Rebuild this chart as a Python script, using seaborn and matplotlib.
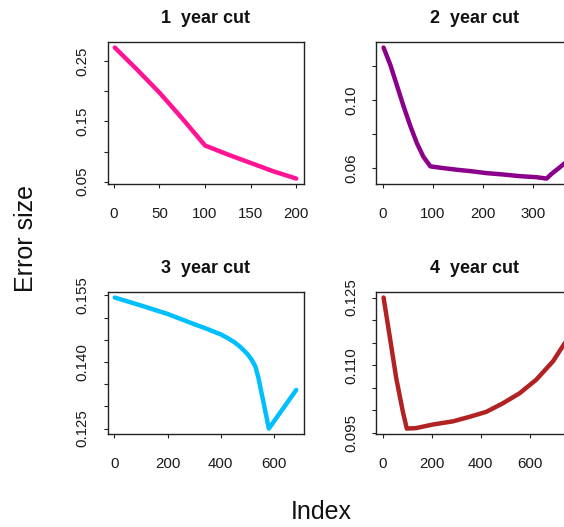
import matplotlib
matplotlib.use("Agg")
import matplotlib.pyplot as plt
import seaborn as sns
import pandas as pd

# ---- data ----
x1 = [1, 25, 50, 75, 100, 125, 150, 175, 200]
y1 = [0.273, 0.237, 0.198, 0.155, 0.110, 0.095, 0.081, 0.067, 0.055]

x2 = [1, 15, 28, 41, 55, 68, 81, 95, 115, 148, 175, 208, 241, 275, 308, 328, 338, 351, 365]
y2 = [0.1312, 0.1206, 0.1086, 0.0966, 0.0846, 0.0746, 0.0666, 0.0610, 0.0602, 0.0590,
      0.0582, 0.0570, 0.0562, 0.0552, 0.0546, 0.0538, 0.0566, 0.0596, 0.0630]

x3 = [1, 100, 200, 300, 350, 400, 425, 450, 475, 500, 515, 530, 541, 581, 684]
y3 = [0.1545, 0.1527, 0.1508, 0.1485, 0.1474, 0.1462, 0.1454, 0.1445, 0.1433, 0.1418,
      0.1406, 0.1390, 0.1366, 0.1250, 0.1337]

x4 = [3, 27, 55, 82, 98, 136, 205, 287, 355, 423, 491, 559, 627, 696, 745]
y4 = [0.1250, 0.1168, 0.1071, 0.0997, 0.0960, 0.0961, 0.0969, 0.0976, 0.0986, 0.0997,
      0.1016, 0.1038, 0.1068, 0.1109, 0.1150]

titles = ["1  year cut", "2  year cut", "3  year cut", "4  year cut"]
colors = ["#FF1493", "#8B008B", "#00BFFF", "#B22222"]

xticks = [[0, 50, 100, 150, 200], [0, 100, 200, 300], [0, 200, 400, 600], [0, 200, 400, 600]]
yticks = [[0.05, 0.10, 0.15, 0.20, 0.25],
          [0.06, 0.08, 0.10, 0.12],
          [0.125, 0.130, 0.135, 0.140, 0.145, 0.150, 0.155],
          [0.095, 0.100, 0.105, 0.110, 0.115, 0.120, 0.125]]
ylabels_shown = [["0.05", "", "0.15", "", "0.25"],
                 ["0.06", "", "0.10", ""],
                 ["0.125", "", "", "0.140", "", "", "0.155"],
                 ["0.095", "", "", "0.110", "", "", "0.125"]]

sns.set_style("white")
plt.rcParams["font.family"] = ["Liberation Sans", "DejaVu Sans"]

W, H = 564, 527
fig = plt.figure(figsize=(W / 100, H / 100), dpi=100)

# panel boxes in pixels: (left, top, width, height)
boxes = [(107.5, 42.3, 196, 141.5), (376.3, 42.3, 196, 141.5),
         (107.5, 292.3, 196, 141.5), (376.3, 292.3, 196, 141.5)]
title_gap = 19.6  # px between title baseline and box top

xs = [x1, x2, x3, x4]
ys = [y1, y2, y3, y4]

for i in range(4):
    l, t, w, h = boxes[i]
    ax = fig.add_axes([l / W, 1 - (t + h) / H, w / W, h / H])
    df = pd.DataFrame({"x": xs[i], "y": ys[i]})
    sns.lineplot(data=df, x="x", y="y", ax=ax, color=colors[i], linewidth=3.2)
    ax.margins(x=0.04, y=0.04)
    ax.set_xticks(xticks[i])
    ax.set_yticks(yticks[i])
    ax.set_yticklabels(ylabels_shown[i], rotation=90, va="center")
    ax.set_xlabel("")
    ax.set_ylabel("")
    for s in ax.spines.values():
        s.set_visible(True)
        s.set_color("#222222")
        s.set_linewidth(1.0)
    ax.tick_params(axis="both", direction="out", length=3, width=0.8, color="#222222",
                   labelsize=10.8, labelcolor="#1a1a1a")
    ax.tick_params(axis="x", pad=13.5, bottom=True)
    ax.tick_params(axis="y", pad=10, left=True)
    ax.set_title(titles[i], fontsize=13, fontweight="bold", color="#111111",
                 y=1 + title_gap / h, pad=0, va="baseline")

fig.text(320.8 / W, 1 - 519.3 / H, "Index", fontsize=18, ha="center", va="baseline",
         color="#111111")
fig.text(33 / W, 1 - 238 / H, "Error size", fontsize=18, rotation=90, rotation_mode="anchor",
         ha="center", va="baseline", color="#111111")

fig.savefig("out.png", dpi=100)
